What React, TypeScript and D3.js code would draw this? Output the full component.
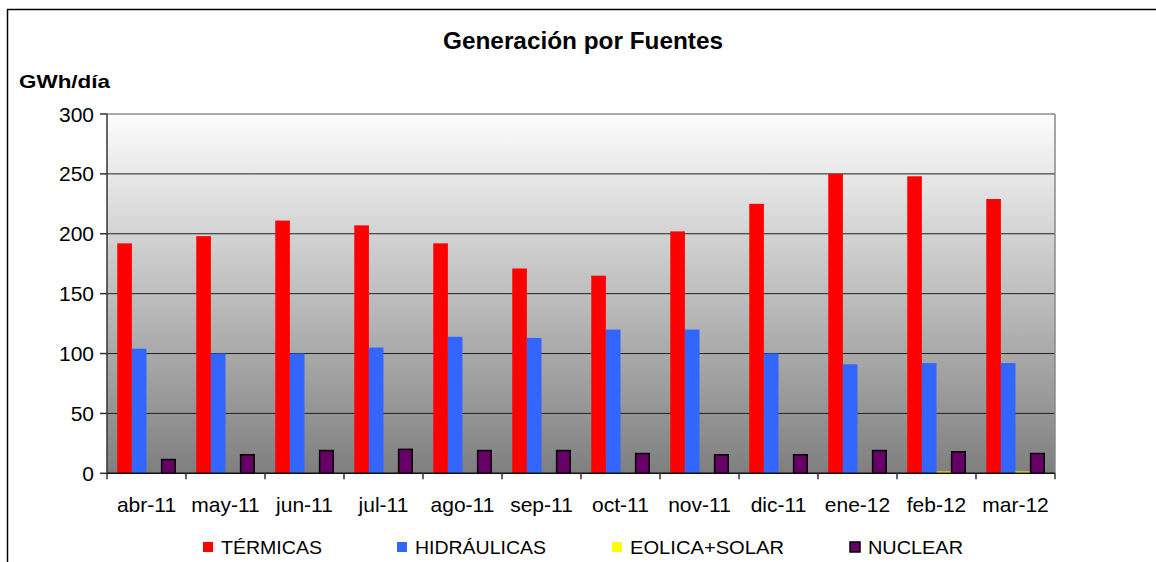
import React from "react";
import * as d3 from "d3";

const categories = ["abr-11", "may-11", "jun-11", "jul-11", "ago-11", "sep-11", "oct-11", "nov-11", "dic-11", "ene-12", "feb-12", "mar-12"];
const termicas = [192, 198, 211, 207, 192, 171, 165, 202, 225, 250, 248, 229];
const hidraulicas = [104, 100, 100, 105, 114, 113, 120, 120, 100, 91, 92, 92];
const eolicaSolar = [0, 0, 0, 0, 0, 0, 0, 0, 0, 0, 1.5, 1.5];
const nuclear = [11.5, 15.5, 19, 20, 19, 19, 16.5, 15.5, 15.5, 19, 18, 16.5];
const seriesNames = ["TÉRMICAS", "HIDRÁULICAS", "EOLICA+SOLAR", "NUCLEAR"];
const seriesValues = [termicas, hidraulicas, eolicaSolar, nuclear];
const yTicks = [0, 50, 100, 150, 200, 250, 300];

const colors = ["#FF0000", "#3366FF", "#FFFF00", "#660066"];
const strokes = ["none", "none", "none", "#000"];
const legendX = [203, 397, 612, 850];
const legendTextLen = [101, 131, 154, 95];

const FONT = "'Liberation Sans', Arial, sans-serif";

export default function App() {
  const left = 107, right = 1055, top = 114, bottom = 473.3;
  const x0 = d3.scaleBand<string>().domain(categories).range([left, right]).paddingInner(0.26).paddingOuter(0.13);
  const x1 = d3.scaleBand<string>().domain(seriesNames).range([0, x0.bandwidth()]).padding(0);
  const y = d3.scaleLinear().domain([0, 300]).range([bottom, top]);
  const step = x0.step();
  const boundaries = d3.range(categories.length + 1).map((i) => left + i * step);

  return (
    <svg width={1156} height={562} style={{ position: "absolute", left: 0, top: 0, background: "#fff" }} fontFamily={FONT}>
      <defs>
        <linearGradient id="bg" x1="0" y1="0" x2="0" y2="1">
          <stop offset="0" stopColor="#fdfdfd" />
          <stop offset="1" stopColor="#7f7f7f" />
        </linearGradient>
      </defs>
      {/* outer frame */}
      <line x1={7.5} y1={9.5} x2={7.5} y2={562} stroke="#000" strokeWidth={1.5} />
      <line x1={7} y1={9.5} x2={1156} y2={9.5} stroke="#000" strokeWidth={1.5} />

      {/* title */}
      <text x={583} y={49} textAnchor="middle" fontSize={23} fontWeight="bold" textLength={280} lengthAdjust="spacingAndGlyphs">
        Generación por Fuentes
      </text>
      <text x={19} y={88} fontSize={19} fontWeight="bold" textLength={91} lengthAdjust="spacingAndGlyphs">
        GWh/día
      </text>

      {/* plot area */}
      <rect x={left} y={top} width={right - left} height={bottom - top} fill="url(#bg)" />
      {yTicks.slice(1).map((t) => (
        <line key={t} x1={left} x2={right} y1={y(t)} y2={y(t)} stroke={t === 300 ? "#555" : "#222"} strokeWidth={1} />
      ))}
      <line x1={right} x2={right} y1={top} y2={bottom} stroke="#888" strokeWidth={1.5} />

      {/* bars */}
      {categories.map((c, i) => (
        <g key={c} transform={`translate(${x0(c)},0)`}>
          {seriesNames.map((s, j) => {
            const v = seriesValues[j][i];
            if (v <= 0) return null;
            const st = strokes[j] !== "none";
            return (
              <rect
                key={s}
                x={(x1(s) as number) + (st ? 0.5 : 0)}
                y={y(v)}
                width={x1.bandwidth() - (st ? 1 : 0)}
                height={bottom - y(v)}
                fill={colors[j]}
                stroke={strokes[j]}
                strokeWidth={st ? 1.5 : 0}
              />
            );
          })}
        </g>
      ))}

      {/* axes */}
      <line x1={left} x2={left} y1={top} y2={bottom} stroke="#333" strokeWidth={1.5} />
      <line x1={left} x2={right} y1={bottom} y2={bottom} stroke="#111" strokeWidth={1.5} />
      {yTicks.map((t) => (
        <g key={t}>
          <line x1={left - 7} x2={left} y1={y(t)} y2={y(t)} stroke="#333" strokeWidth={1.5} />
          <text x={94} y={y(t) + 7.5} textAnchor="end" fontSize={21}>
            {t}
          </text>
        </g>
      ))}
      {boundaries.map((b, i) => (
        <line key={i} x1={b} x2={b} y1={bottom} y2={bottom + 6} stroke="#333" strokeWidth={1.5} />
      ))}
      {categories.map((c) => (
        <text key={c} x={(x0(c) as number) + x0.bandwidth() / 2} y={512} textAnchor="middle" fontSize={21}>
          {c}
        </text>
      ))}

      {/* legend */}
      {seriesNames.map((s, j) => (
        <g key={s}>
          <rect x={legendX[j]} y={542} width={10} height={10} fill={colors[j]} stroke={strokes[j]} strokeWidth={strokes[j] === "none" ? 0 : 1.5} />
          <text x={legendX[j] + 18} y={554} fontSize={18} textLength={legendTextLen[j]} lengthAdjust="spacingAndGlyphs">
            {s}
          </text>
        </g>
      ))}
    </svg>
  );
}
